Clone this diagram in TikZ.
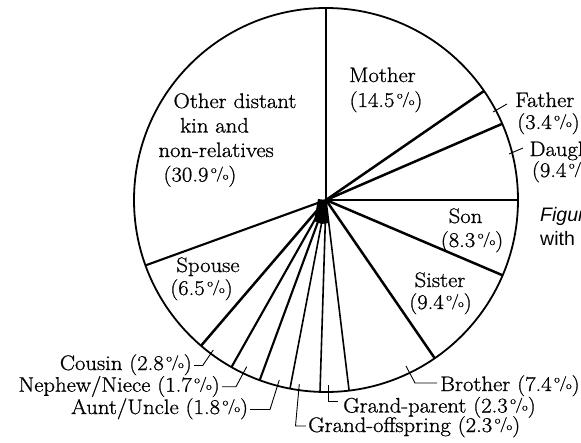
\documentclass[tikz,border=0pt]{standalone}
\usepackage{fontspec}
\newfontfamily\capfont{Liberation Sans}
\newfontfamily\labrm[FakeStretch=1.08,FakeBold=0.9]{Latin Modern Roman}
\newcommand\labfont{\labrm\fontsize{21}{24.5}\selectfont}
\newcommand\smallo{{\fontsize{10.5}{10.5}\selectfont o}}
\newcommand\pct{\kern2.5pt\raisebox{8.5pt}{\smallo}\kern-0.5pt\raisebox{3.5pt}{\fontsize{15}{15}\selectfont /}\kern-0.8pt\raisebox{2pt}{\smallo}}
\begin{document}
\begin{tikzpicture}[x=1pt,y=-1pt,
  rim/.style={line width=1.8pt},
  thickray/.style={line width=2.5pt},
  midray/.style={line width=2.1pt},
  thinray/.style={line width=1.6pt},
  lead/.style={line width=0.9pt},
  lab/.style={inner sep=0pt, font=\labfont},
  capstyle/.style={inner sep=0pt, font=\capfont\fontsize{19.5}{22}\selectfont}]
\clip (0,0) rectangle (581,442);
\fill[white] (0,0) rectangle (581,442);
% centre and rim points
\coordinate (C) at (326,200);
\coordinate (p90) at (326,8);
\coordinate (p34) at (484.0,91.0);
\coordinate (p23) at (502.2,123.8);
\coordinate (p0) at (518,200);
\coordinate (pm23) at (502.6,275.3);
\coordinate (pm55) at (434.7,358.2);
\coordinate (pm83) at (349.1,390.6);
\coordinate (pm92) at (320.0,391.9);
\coordinate (pm101) at (290.0,388.6);
\coordinate (pm110) at (259.7,380.2);
\coordinate (pm120) at (231.5,367.1);
\coordinate (pm131) at (201.0,345.8);
\coordinate (pm160) at (145.5,265.4);
\coordinate (b1) at (314,221);
\coordinate (b2) at (321.5,224);
\coordinate (b3) at (328.8,223);
\coordinate (b4) at (318,199);
\draw[rim] (C) circle[radius=192];
\draw[thinray] (C) -- (p90);
\draw[thickray] (C) -- (p34);
\draw[thickray] (C) -- (p23);
\draw[thinray] (C) -- (p0);
\draw[thickray] (C) -- (pm23);
\draw[thickray] (C) -- (pm55);
\draw[thinray] (C) -- (pm83);
\draw[thinray] (C) -- (pm92);
\draw[thinray] (C) -- (pm101);
\draw[midray] (C) -- (pm110);
\draw[midray] (C) -- (pm120);
\draw[thickray] (C) -- (pm131);
\draw[midray] (C) -- (pm160);
\fill (b4) -- (C) -- (b3) -- (b2) -- (b1) -- cycle;
% labels inside
\node[lab, anchor=base] (mo1) at (382.5,82) {Mother};
\node[lab, anchor=base] (mo2) at (386,107) {(14.5\pct)};
\node[lab, anchor=base] (so1) at (465.5,223) {Son};
\node[lab, anchor=base] (so2) at (472,247) {(8.3\pct)};
\node[lab, anchor=base] (si1) at (440,287) {Sister};
\node[lab, anchor=base] (si2) at (440.5,309) {(9.4\pct)};
\node[lab, anchor=base] (sp1) at (208,272) {Spouse};
\node[lab, anchor=base] (sp2) at (201.5,295) {(6.5\pct)};
\node[lab, anchor=base west] (ot1) at (173.3,108) {Other distant};
\node[lab, anchor=base west] (ot2) at (180,132.5) {kin and};
\node[lab, anchor=base west] (ot3) at (158.3,157) {non-relatives};
\node[lab, anchor=base west] (ot4) at (163.3,181.5) {(30.9\pct)};
% labels outside
\node[lab, anchor=base west] (fa1) at (515,107) {Father};
\node[lab, anchor=base west] (fa2) at (517,129) {(3.4\pct)};
\node[lab, anchor=base west] (da1) at (529.3,156) {Daughter};
\node[lab, anchor=base west] (da2) at (531.7,177) {(9.4\pct)};
\node[lab, anchor=base west] (br) at (440,391) {Brother (7.4\pct)};
\node[lab, anchor=base west] (gp) at (343,412.5) {Grand-parent (2.3\pct)};
\node[lab, anchor=base west] (go) at (308,432) {Grand-offspring (2.3\pct)};
\node[lab, anchor=base east] (co) at (192,370) {Cousin (2.8\pct)};
\node[lab, anchor=base east] (ne) at (220,391.7) {Nephew/Niece (1.7\pct)};
\node[lab, anchor=base east] (au) at (248.3,414) {Aunt/Uncle (1.8\pct)};
\node[capstyle, anchor=base west] (fig) at (540,221) {\itshape Figure};
\node[capstyle, anchor=base west] (with) at (540,245) {with (};
% leaders
\coordinate (fa-a) at (493,112); \coordinate (fa-b) at (507,104);
\draw[lead] (fa-a) -- (fa-b);
\coordinate (da-a) at (509,154); \coordinate (da-b) at (523,148);
\draw[lead] (da-a) -- (da-b);
\coordinate (br-a) at (406,366); \coordinate (br-b) at (415,383); \coordinate (br-c) at (437,383);
\draw[lead] (br-a) -- (br-b) -- (br-c);
\coordinate (gp-a) at (328.3,385); \coordinate (gp-b) at (328.3,401.7); \coordinate (gp-c) at (338.3,401.7);
\draw[lead] (gp-a) -- (gp-b) -- (gp-c);
\coordinate (go-a) at (299.3,384); \coordinate (go-b) at (295.5,426); \coordinate (go-c) at (306,426);
\draw[lead] (go-a) -- (go-b) -- (go-c);
\coordinate (au-a) at (279.3,380); \coordinate (au-b) at (270,409.5); \coordinate (au-c) at (250,409.5);
\draw[lead] (au-a) -- (au-b) -- (au-c);
\coordinate (ne-a) at (246.7,366.7); \coordinate (ne-b) at (236,386.7); \coordinate (ne-c) at (222,386.7);
\draw[lead] (ne-a) -- (ne-b) -- (ne-c);
\coordinate (co-a) at (213.3,350); \coordinate (co-b) at (202.7,365.5); \coordinate (co-c) at (194,365.5);
\draw[lead] (co-a) -- (co-b) -- (co-c);
\end{tikzpicture}
\end{document}
